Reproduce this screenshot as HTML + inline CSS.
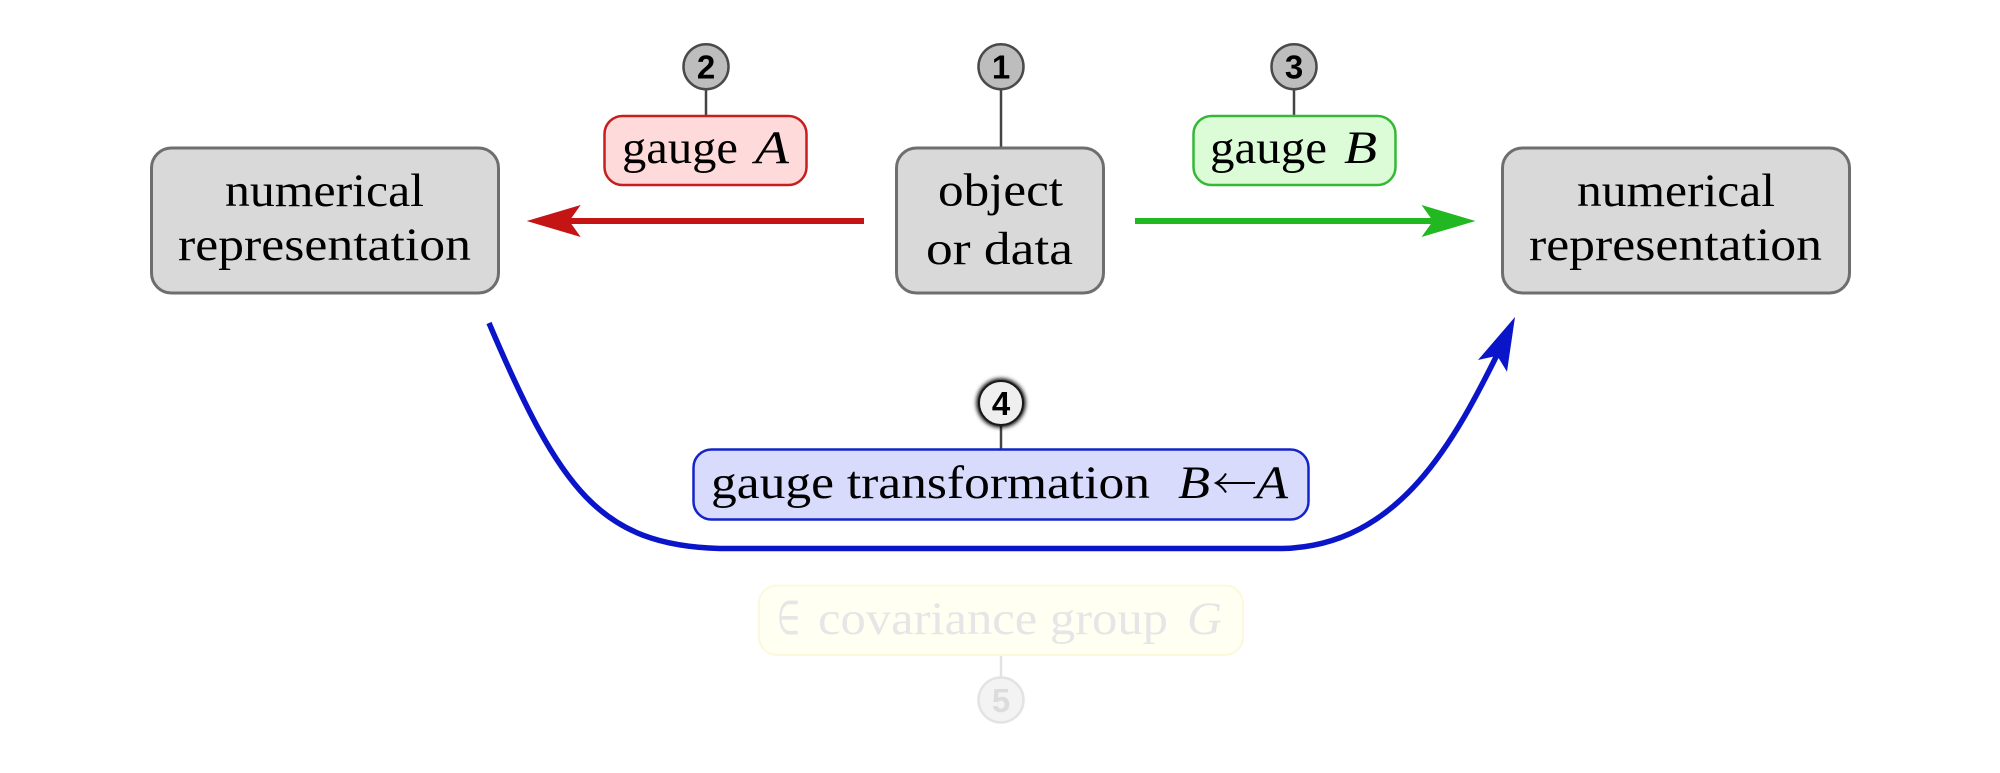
<!DOCTYPE html>
<html>
<head>
<meta charset="utf-8">
<style>
  html, body { margin:0; padding:0; background:#ffffff; }
  svg { display:block; }
  .t { font-family: "Liberation Serif", serif; font-size:47px; fill:#000; }
  .i { font-family: "Liberation Serif", serif; font-style:italic; font-size:47px; fill:#000; }
  .n { font-family: "Liberation Sans", "DejaVu Sans", sans-serif; font-weight:bold; font-size:33px; fill:#000; }
</style>
</head>
<body>
<svg width="2000" height="773" viewBox="0 0 2000 773" xmlns="http://www.w3.org/2000/svg">
  <defs>
    <filter id="blur" x="-50%" y="-50%" width="200%" height="200%">
      <feGaussianBlur stdDeviation="2.2"/>
    </filter>
  </defs>

  <!-- connector lines from circles -->
  <line x1="706" y1="90" x2="706" y2="116" stroke="#444" stroke-width="2.5"/>
  <line x1="1001" y1="90" x2="1001" y2="148" stroke="#444" stroke-width="2.5"/>
  <line x1="1294" y1="90" x2="1294" y2="116" stroke="#444" stroke-width="2.5"/>
  <line x1="1001" y1="426" x2="1001" y2="450" stroke="#444" stroke-width="2.5"/>
  <line x1="1001" y1="655" x2="1001" y2="677" stroke="#e2e2e2" stroke-width="2.5"/>

  <!-- circles 1,2,3 -->
  <circle cx="706" cy="66.7" r="22.5" fill="#bdbdbd" stroke="#4a4a4a" stroke-width="2.5"/>
  <text class="n" x="706" y="78.5" text-anchor="middle">2</text>
  <circle cx="1001" cy="66.7" r="22.5" fill="#bdbdbd" stroke="#4a4a4a" stroke-width="2.5"/>
  <text class="n" x="1001" y="78.5" text-anchor="middle">1</text>
  <circle cx="1294" cy="66.7" r="22.5" fill="#bdbdbd" stroke="#4a4a4a" stroke-width="2.5"/>
  <text class="n" x="1294" y="78.5" text-anchor="middle">3</text>

  <!-- circle 4 with glow -->
  <circle cx="1001" cy="403" r="24.5" fill="#000" filter="url(#blur)"/>
  <circle cx="1001" cy="403" r="22" fill="#efefef" stroke="#1a1a1a" stroke-width="2"/>
  <text class="n" x="1001" y="414.8" text-anchor="middle">4</text>

  <!-- circle 5 faded -->
  <circle cx="1001" cy="700" r="22.5" fill="#f3f3f3" stroke="#e3e3e3" stroke-width="2.5"/>
  <text class="n" x="1001" y="711.8" text-anchor="middle" style="fill:#dcdcdc">5</text>

  <!-- main gray boxes -->
  <rect x="151.5" y="148" width="347" height="145" rx="20" ry="20" fill="#d9d9d9" stroke="#6e6e6e" stroke-width="3"/>
  <rect x="896.5" y="148" width="207" height="145" rx="20" ry="20" fill="#d9d9d9" stroke="#6e6e6e" stroke-width="3"/>
  <rect x="1502.5" y="148" width="347" height="145" rx="20" ry="20" fill="#d9d9d9" stroke="#6e6e6e" stroke-width="3"/>

  <text class="t" x="225" y="206" textLength="199" lengthAdjust="spacingAndGlyphs">numerical</text>
  <text class="t" x="178" y="260" textLength="293" lengthAdjust="spacingAndGlyphs">representation</text>
  <text class="t" x="938" y="205.5" textLength="125" lengthAdjust="spacingAndGlyphs">object</text>
  <text class="t" x="926" y="264" textLength="147" lengthAdjust="spacingAndGlyphs">or data</text>
  <text class="t" x="1577" y="206" textLength="198" lengthAdjust="spacingAndGlyphs">numerical</text>
  <text class="t" x="1529" y="260" textLength="293" lengthAdjust="spacingAndGlyphs">representation</text>

  <!-- gauge A -->
  <rect x="604.5" y="116" width="202" height="69" rx="18" ry="18" fill="#ffdada" stroke="#c81e1e" stroke-width="2.5"/>
  <text class="t" x="622" y="163" textLength="116" lengthAdjust="spacingAndGlyphs">gauge</text>
  <text class="i" x="755" y="163" textLength="34" lengthAdjust="spacingAndGlyphs">A</text>

  <!-- gauge B -->
  <rect x="1193.5" y="116" width="202" height="69" rx="18" ry="18" fill="#dcfcd8" stroke="#35b835" stroke-width="2.5"/>
  <text class="t" x="1210" y="163" textLength="117" lengthAdjust="spacingAndGlyphs">gauge</text>
  <text class="i" x="1344" y="163" textLength="33" lengthAdjust="spacingAndGlyphs">B</text>

  <!-- red arrow -->
  <rect x="562" y="218" width="302" height="6" fill="#c41414"/>
  <polygon points="526.7,221 580.7,205 569.3,221 580.7,237" fill="#c41414"/>

  <!-- green arrow -->
  <rect x="1135" y="218" width="305" height="6" fill="#22b822"/>
  <polygon points="1475.5,221 1421.5,205 1433,221 1421.5,237" fill="#22b822"/>

  <!-- blue curve -->
  <path d="M489,323 C560,490 600,545 720,548.5 L1282,548.5 C1400,546 1455,440 1501,347"
        fill="none" stroke="#0a14c8" stroke-width="5.5"/>
  <polygon points="1515,317 1507,371.7 1497.2,355.7 1478,360" fill="#0a14c8"/>

  <!-- gauge transformation box -->
  <rect x="693.5" y="449.5" width="615" height="70" rx="18" ry="18" fill="#d8dbfc" stroke="#1424c8" stroke-width="2.5"/>
  <text class="t" x="711" y="498" textLength="439" lengthAdjust="spacingAndGlyphs">gauge transformation</text>
  <text class="i" x="1178" y="498" textLength="32" lengthAdjust="spacingAndGlyphs">B</text>
  <!-- left arrow drawn -->
  <line x1="1217" y1="483" x2="1255" y2="483" stroke="#000" stroke-width="2"/>
  <path d="M1226,473.5 Q1222,480 1216,483 Q1222,486 1226,492.5" fill="none" stroke="#000" stroke-width="2"/>
  <text class="i" x="1256" y="498" textLength="32" lengthAdjust="spacingAndGlyphs">A</text>

  <!-- covariance group (faded) -->
  <rect x="759" y="585.5" width="484" height="69.5" rx="18" ry="18" fill="#fffff2" stroke="#fbf8dc" stroke-width="2"/>
  <text class="t" x="777" y="634" textLength="23" lengthAdjust="spacingAndGlyphs" style="fill:#e6e6e6">∈</text>
  <text class="t" x="818" y="634" textLength="350" lengthAdjust="spacingAndGlyphs" style="fill:#e6e6e6">covariance group</text>
  <text class="i" x="1187" y="634" textLength="35" lengthAdjust="spacingAndGlyphs" style="fill:#e6e6e6">G</text>
</svg>
</body>
</html>
